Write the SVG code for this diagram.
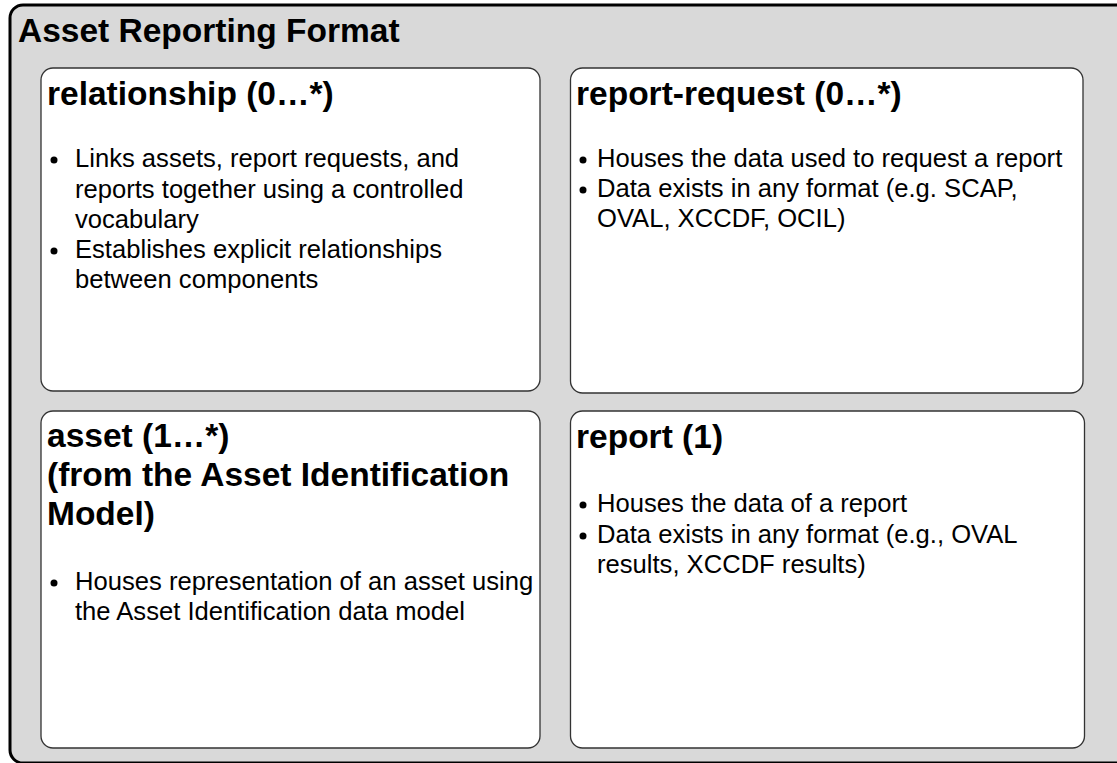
<svg xmlns="http://www.w3.org/2000/svg" width="1117" height="763" viewBox="0 0 1117 763">
<style>
.frame{fill:#d9d9d9;stroke:#000;stroke-width:3}
.box{fill:#fff;stroke:#333;stroke-width:1.3}
.t{font-family:"Liberation Sans",Arial,sans-serif;fill:#000}
.h{font-size:33.5px;font-weight:bold}
.b{font-size:25.6px}
.dot{fill:#000}
</style>
<rect width="1117" height="763" fill="#fff"/>
<g id="frame">
<rect class="frame" x="10" y="5" width="1200" height="758" rx="13"/>
<text class="t h" x="18" y="42">Asset Reporting Format</text>
</g>
<g id="relationship">
<rect class="box" x="41" y="68" width="499" height="323" rx="12"/>
<text class="t h" x="47" y="105">relationship (0…*)</text>
<circle class="dot" cx="54" cy="160" r="3.5"/>
<circle class="dot" cx="54" cy="251" r="3.5"/>
<text class="t b" x="75" y="167">Links assets, report requests, and</text>
<text class="t b" x="75" y="197.5">reports together using a controlled</text>
<text class="t b" x="75" y="228">vocabulary</text>
<text class="t b" x="75" y="258">Establishes explicit relationships</text>
<text class="t b" x="75" y="288">between components</text>
</g>
<g id="report-request">
<rect class="box" x="570.5" y="68" width="512.5" height="325" rx="12"/>
<text class="t h" x="576" y="105">report-request (0…*)</text>
<circle class="dot" cx="583" cy="160" r="3.5"/>
<circle class="dot" cx="583" cy="190" r="3.5"/>
<text class="t b" x="597" y="167">Houses the data used to request a report</text>
<text class="t b" x="597" y="197">Data exists in any format (e.g. SCAP,</text>
<text class="t b" x="597" y="227">OVAL, XCCDF, OCIL)</text>
</g>
<g id="asset">
<rect class="box" x="41" y="411" width="499" height="337" rx="12"/>
<text class="t h" x="47" y="447">asset (1…*)</text>
<text class="t h" x="47" y="486">(from the Asset Identification</text>
<text class="t h" x="47" y="525">Model)</text>
<circle class="dot" cx="54" cy="583" r="3.5"/>
<text class="t b" x="75" y="590">Houses representation of an asset using</text>
<text class="t b" x="75" y="620">the Asset Identification data model</text>
</g>
<g id="report">
<rect class="box" x="570.5" y="411" width="514" height="337" rx="12"/>
<text class="t h" x="576" y="448">report (1)</text>
<circle class="dot" cx="583" cy="505" r="3.5"/>
<circle class="dot" cx="583" cy="536" r="3.5"/>
<text class="t b" x="597" y="512">Houses the data of a report</text>
<text class="t b" x="597" y="543">Data exists in any format (e.g., OVAL</text>
<text class="t b" x="597" y="573">results, XCCDF results)</text>
</g>
<g id="connectors"/>
</svg>
